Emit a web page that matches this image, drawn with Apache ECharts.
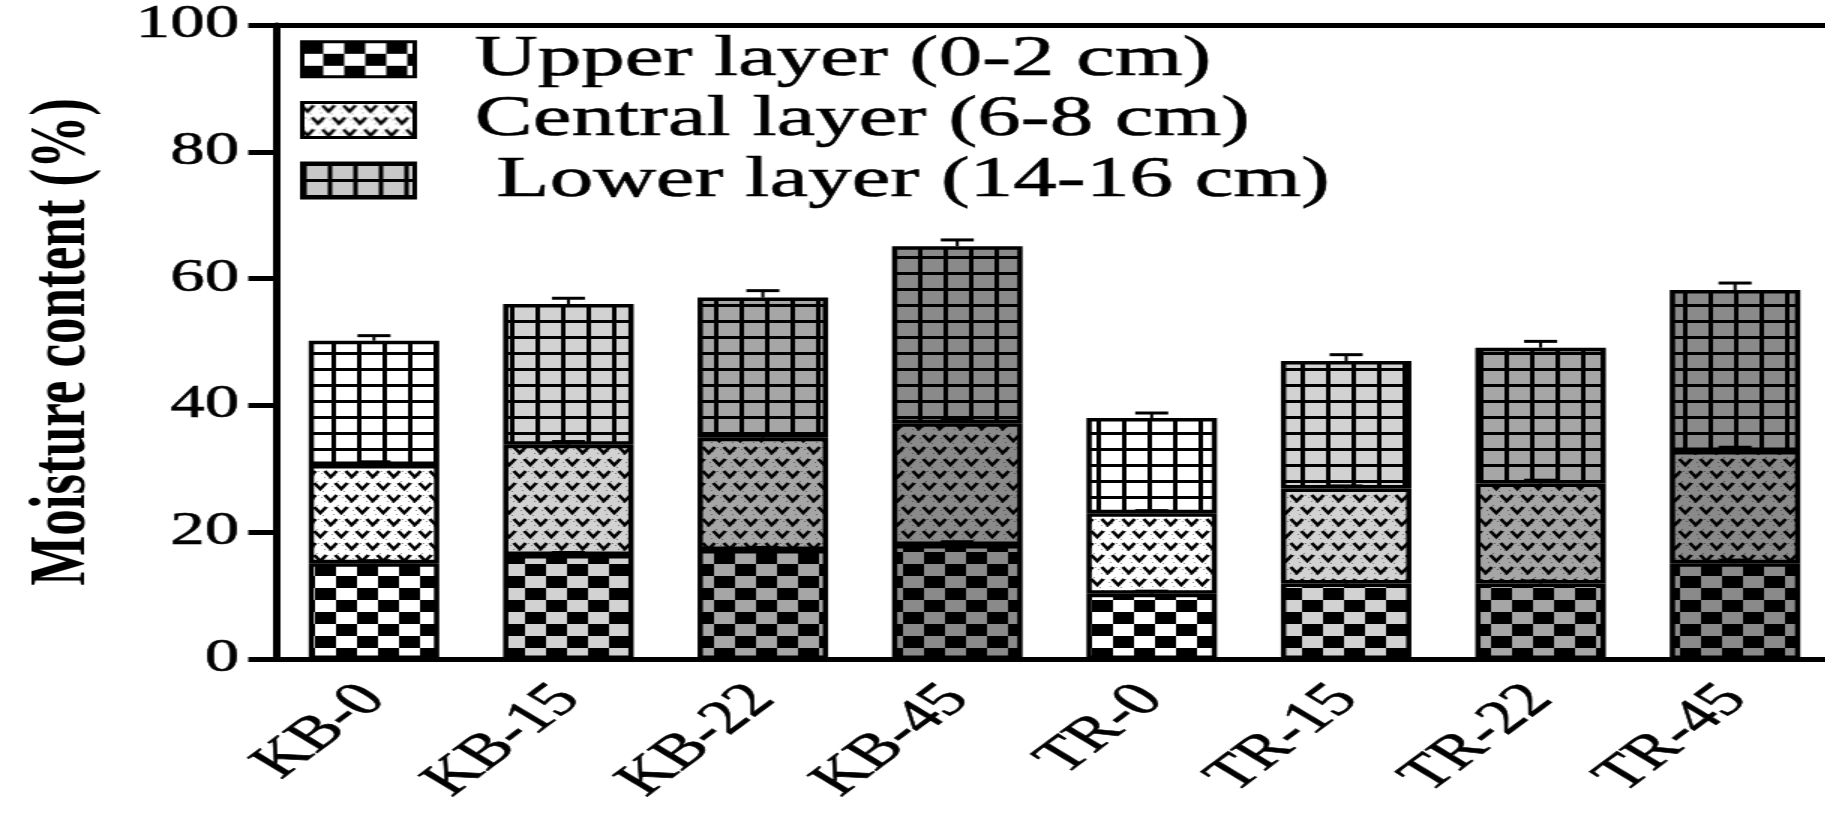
<!DOCTYPE html>
<html>
<head>
<meta charset="utf-8">
<script src="https://cdn.jsdelivr.net/npm/echarts@6/dist/echarts.min.js"></script>
<style>
  html, body { margin: 0; padding: 0; background: #fff; overflow: hidden; width: 1825px; height: 816px; }
  /* the source figure is stretched sideways, so the chart is drawn narrow and widened */
  #main { width: 1230px; height: 816px; transform: scaleX(1.5); transform-origin: 0 0; }
</style>
</head>
<body>
<div id="main"></div>
<script>
var categories = ['KB-0', 'KB-15', 'KB-22', 'KB-45', 'TR-0', 'TR-15', 'TR-22', 'TR-45'];
var layerNames = ['Upper layer (0-2 cm)', 'Central layer (6-8 cm)', ' Lower layer (14-16 cm)'];

// moisture content (%) of each layer, stacked
var upperLayer   = [15.1, 16.4, 17.2, 18.0, 10.3, 11.9, 11.9, 15.1];
var centralLayer = [15.5, 17.4, 17.7, 19.2, 12.7, 15.0, 15.8, 17.7];
var lowerLayer   = [19.6, 22.2, 22.1, 27.9, 15.0, 20.1, 21.4, 25.4];

// error bars (drawn upward only)
var upperErr   = [0.4, 0.4, 0.4, 0.5, 0.4, 0.3, 0.4, 0.5];
var centralErr = [0.5, 0.5, 0.6, 0.5, 0.4, 0.4, 0.5, 0.6];
var lowerErr   = [0.8, 0.9, 1.1, 1.0, 0.8, 1.0, 1.0, 1.1];

var yTicks = [0, 20, 40, 60, 80, 100];

var font = 'Liberation Serif, Times New Roman, serif';
// background grey of each bar (0, 15, 22, 45 groups)
var shade = ['#ffffff', '#d2d2d2', '#a6a6a6', '#8a8a8a', '#ffffff', '#d2d2d2', '#a6a6a6', '#8a8a8a'];
var legendShade = ['#ffffff', '#ffffff', '#c8c8c8'];

function tile(w, h, draw) {
    var c = document.createElement('canvas');
    c.width = w; c.height = h;
    draw(c.getContext('2d'), w, h);
    return c;
}

function vMark(g, x, y) {
    g.beginPath();
    g.moveTo(x - 4, y - 3);
    g.lineTo(x, y + 3);
    g.lineTo(x + 4, y - 3);
    g.stroke();
}

var painters = [
    // checkerboard
    function (bg) {
        return tile(28, 24, function (g) {
            g.fillStyle = bg; g.fillRect(0, 0, 28, 24);
            g.fillStyle = '#000';
            g.fillRect(0, 0, 14, 12);
            g.fillRect(14, 12, 14, 12);
        });
    },
    // little v marks with speckle
    function (bg) {
        return tile(14, 24, function (g) {
            g.fillStyle = bg; g.fillRect(0, 0, 14, 24);
            g.fillStyle = 'rgba(0,0,0,0.4)';
            [[1, 1], [8, 3], [12, 10], [5, 11], [2, 15], [9, 22], [13, 19], [6, 21], [11, 6], [4, 17]].forEach(function (p) {
                g.fillRect(p[0], p[1], 1, 1);
            });
            g.strokeStyle = '#000';
            g.lineWidth = 2.4;
            vMark(g, 3.5, 6);
            vMark(g, 17.5, 6);
            vMark(g, 10.5, 18);
            vMark(g, -3.5, 18);
        });
    },
    // square grid
    function (bg) {
        return tile(17, 16, function (g) {
            g.fillStyle = bg; g.fillRect(0, 0, 17, 16);
            g.fillStyle = '#000';
            g.fillRect(0, 0, 3, 16);
            g.fillRect(0, 0, 17, 3);
        });
    }
];

var cache = {};
function pattern(layer, bg) {
    var key = layer + bg;
    if (!cache[key]) cache[key] = { image: painters[layer](bg), repeat: 'repeat' };
    return cache[key];
}

var layers = [upperLayer, centralLayer, lowerLayer];
var errs = [upperErr, centralErr, lowerErr];

var series = [];
layers.forEach(function (vals, li) {
    series.push({
        name: layerNames[li],
        type: 'bar',
        stack: 'total',
        barWidth: 87,
        itemStyle: { color: pattern(li, legendShade[li]), borderColor: '#000', borderWidth: 3.5 },
        data: vals.map(function (v, i) {
            return { value: v, itemStyle: { color: pattern(li, shade[i]) } };
        })
    });
});

// error bars sit on top of each stacked segment
var errData = [];
categories.forEach(function (c, i) {
    var top = 0;
    layers.forEach(function (vals, li) {
        top += vals[i];
        errData.push([i, top, top + errs[li][i]]);
    });
});
series.push({
    type: 'custom',
    z: 10,
    silent: true,
    encode: { x: 0, y: [1, 2] },
    data: errData,
    renderItem: function (params, api) {
        var p0 = api.coord([api.value(0), api.value(1)]);
        var p1 = api.coord([api.value(0), api.value(2)]);
        return {
            type: 'group',
            children: [
                { type: 'line', shape: { x1: p0[0], y1: p0[1], x2: p1[0], y2: p1[1] }, style: { stroke: '#000', lineWidth: 2 } },
                { type: 'line', shape: { x1: p1[0] - 11, y1: p1[1], x2: p1[0] + 11, y2: p1[1] }, style: { stroke: '#000', lineWidth: 3 } }
            ]
        };
    }
});

var textInk = { textBorderColor: '#000', textBorderWidth: 0.6 };

var chart = echarts.init(document.getElementById('main'));
chart.setOption({
    animation: false,
    backgroundColor: '#fff',
    grid: { left: 184.5, right: 8.5, top: 25, bottom: 157 },
    legend: {
        data: layerNames,
        orient: 'vertical',
        left: 200,
        top: 30,
        padding: 0,
        itemWidth: 75,
        itemHeight: 35,
        itemGap: 2,
        icon: 'rect',
        selectedMode: false,
        itemStyle: { borderColor: '#000', borderWidth: 3 },
        textStyle: Object.assign({ fontFamily: font, fontSize: 58, color: '#000', padding: [0, 0, 0, 35] }, textInk)
    },
    xAxis: [{
        type: 'category',
        data: categories,
        axisLine: { lineStyle: { color: '#000', width: 5 } },
        axisTick: { alignWithLabel: true, length: 17, lineStyle: { color: '#000', width: 6 } },
        axisLabel: Object.assign({ rotate: 48, margin: 33, fontFamily: font, fontSize: 48, color: '#000' }, textInk)
    }, {
        type: 'category',
        position: 'top',
        data: categories,
        axisLine: { lineStyle: { color: '#000', width: 5 } },
        axisTick: { show: false },
        axisLabel: { show: false }
    }],
    yAxis: {
        type: 'value',
        min: yTicks[0],
        max: yTicks[yTicks.length - 1],
        interval: yTicks[1] - yTicks[0],
        name: 'Moisture content (%)',
        nameLocation: 'middle',
        nameGap: 116,
        nameTextStyle: { fontFamily: font, fontWeight: 'bold', fontSize: 53, color: '#000' },
        axisLine: { show: true, lineStyle: { color: '#000', width: 5 } },
        axisTick: { show: true, length: 19, lineStyle: { color: '#000', width: 5 } },
        axisLabel: Object.assign({ margin: 25, fontFamily: font, fontSize: 46, color: '#000' }, textInk),
        splitLine: { show: false }
    },
    series: series
});
</script>
</body>
</html>
